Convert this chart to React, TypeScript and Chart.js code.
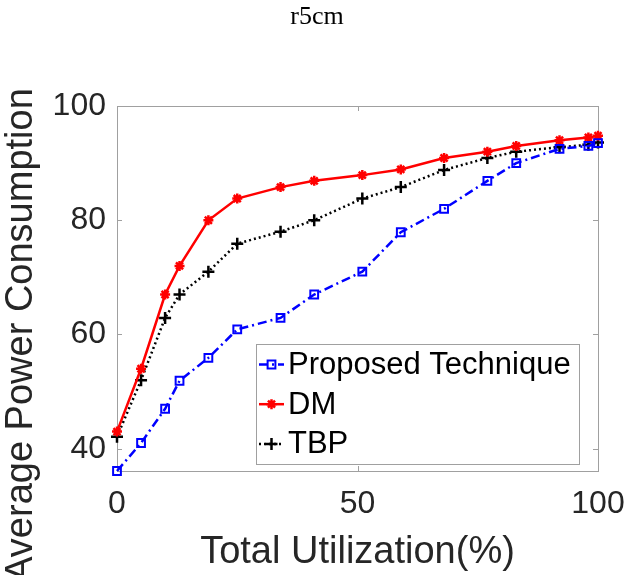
import React, { useEffect, useRef } from 'react';
import { Chart, registerables } from 'chart.js';
import { drawPoint } from 'chart.js/helpers';

Chart.register(...registerables);

const utilization = [0, 5, 10, 13, 19, 25, 34, 41, 51, 59, 68, 77, 83, 92, 98, 100];
const proposed = [36.1, 41, 47, 51.9, 55.9, 60.9, 62.9, 67, 71, 77.9, 82, 86.9, 90, 92.5, 93, 93.5];
const dm = [43, 54, 67, 72, 80, 83.8, 85.8, 86.9, 87.9, 88.9, 90.9, 92, 93, 94, 94.5, 94.8];
const tbp = [42.1, 52, 62.9, 67, 71, 75.9, 78, 80, 83.8, 85.8, 88.8, 90.9, 92, 92.8, 93.2, 93.6];
const xTicks = [0, 50, 100];
const yTicks = [40, 60, 80, 100];
const seriesNames = ['Proposed Technique', 'DM', 'TBP'];
const pageTitle = 'r5cm';
const xTitle = 'Total Utilization(%)';
const yTitle = 'Average Power Consumption';

const SANS = '"Liberation Sans", Arial, sans-serif';
const TEXT = '#262626';
const AXIS = '#a0a0a0';

const styles = [
  { color: '#0000ff', dash: [9, 4, 2, 4], width: 2.5, point: 'rect', radius: 5.5, pbw: 2 },
  { color: '#ff0000', dash: [], width: 2.5, point: 'star', radius: 5, pbw: 2.5 },
  { color: '#000000', dash: [2, 3], width: 2.5, point: 'cross', radius: 6, pbw: 2.5 },
];

const decorPlugin = {
  id: 'decor',
  beforeDatasetsDraw(chart: any) {
    const { ctx, chartArea: a, scales } = chart;
    ctx.save();
    ctx.strokeStyle = AXIS;
    ctx.lineWidth = 1;
    ctx.setLineDash([]);
    ctx.strokeRect(Math.round(a.left) + 0.5, Math.round(a.top) + 0.5, Math.round(a.right - a.left), Math.round(a.bottom - a.top));
    const tl = 5;
    ctx.beginPath();
    xTicks.forEach((v) => {
      const px = Math.round(scales.x.getPixelForValue(v)) + 0.5;
      ctx.moveTo(px, a.bottom);
      ctx.lineTo(px, a.bottom - tl);
      ctx.moveTo(px, a.top);
      ctx.lineTo(px, a.top + tl);
    });
    yTicks.forEach((v) => {
      const py = Math.round(scales.y.getPixelForValue(v)) + 0.5;
      ctx.moveTo(a.left, py);
      ctx.lineTo(a.left + tl, py);
      ctx.moveTo(a.right, py);
      ctx.lineTo(a.right - tl, py);
    });
    ctx.stroke();
    ctx.restore();
  },
  afterDatasetsDraw(chart: any) {
    const { ctx, chartArea: a } = chart;
    ctx.save();
    const w = 323;
    const h = 120;
    const right = a.right - 19;
    const bottom = a.bottom - 7;
    const left = right - w;
    const top = bottom - h;
    ctx.fillStyle = '#ffffff';
    ctx.fillRect(left, top, w, h);
    ctx.strokeStyle = AXIS;
    ctx.lineWidth = 1;
    ctx.setLineDash([]);
    ctx.strokeRect(Math.round(left) + 0.5, Math.round(top) + 0.5, w, h);
    seriesNames.forEach((name, i) => {
      const s = styles[i];
      const y = top + 20.5 + i * 39.7;
      ctx.strokeStyle = s.color;
      ctx.lineWidth = s.width;
      ctx.setLineDash(s.dash);
      ctx.beginPath();
      ctx.moveTo(left + 3, y);
      ctx.lineTo(left + 28, y);
      ctx.stroke();
      ctx.setLineDash([]);
      ctx.fillStyle = 'rgba(0,0,0,0)';
      ctx.lineWidth = s.pbw;
      drawPoint(ctx, { pointStyle: s.point, radius: s.radius, rotation: 0, borderWidth: s.pbw } as any, left + 15.5, y);
      ctx.fillStyle = '#000000';
      ctx.font = `31px ${SANS}`;
      ctx.textBaseline = 'middle';
      ctx.textAlign = 'left';
      ctx.fillText(name, left + 32, y + 1);
    });
    ctx.restore();
  },
  afterDraw(chart: any) {
    const { ctx } = chart;
    ctx.save();
    ctx.fillStyle = '#000000';
    ctx.font = '26px "Liberation Serif", "Times New Roman", serif';
    ctx.textAlign = 'center';
    ctx.textBaseline = 'middle';
    ctx.fillText(pageTitle, 317, 17);
    ctx.fillStyle = TEXT;
    ctx.font = `38px ${SANS}`;
    ctx.translate(22, 335);
    ctx.rotate(-Math.PI / 2);
    ctx.fillText(yTitle, 0, 0);
    ctx.restore();
  },
};

export default function App() {
  const ref = useRef<HTMLCanvasElement | null>(null);
  useEffect(() => {
    if (!ref.current) return;
    const series = [proposed, dm, tbp];
    const chart = new Chart(ref.current, {
      type: 'line',
      data: {
        datasets: series.map((vals, i) => ({
          label: seriesNames[i],
          data: utilization.map((x, j) => ({ x, y: vals[j] })),
          borderColor: styles[i].color,
          backgroundColor: 'rgba(0,0,0,0)',
          borderWidth: styles[i].width,
          borderDash: styles[i].dash,
          pointStyle: styles[i].point as any,
          pointRadius: styles[i].radius,
          pointBorderWidth: styles[i].pbw,
          pointBorderColor: styles[i].color,
          pointBackgroundColor: 'rgba(0,0,0,0)',
          tension: 0,
          clip: false as any,
        })),
      },
      options: {
        responsive: false,
        animation: false,
        devicePixelRatio: 1,
        layout: { padding: { top: 106, right: 30, left: 0, bottom: 0 } },
        plugins: { legend: { display: false }, tooltip: { enabled: false }, title: { display: false } },
        scales: {
          x: {
            type: 'linear',
            min: 0,
            max: 100,
            grid: { display: false, drawTicks: false },
            border: { display: false },
            afterBuildTicks: (s: any) => { s.ticks = xTicks.map((v) => ({ value: v })); },
            afterFit: (s: any) => { s.height = 104; s.paddingLeft = 0; s.paddingRight = 0; },
            ticks: { color: TEXT, font: { family: SANS, size: 32 }, padding: 14, maxRotation: 0 },
            title: { display: true, text: xTitle, color: TEXT, font: { family: SANS, size: 38 }, padding: 0 },
          },
          y: {
            type: 'linear',
            min: 36.1,
            max: 100,
            grid: { display: false, drawTicks: false },
            border: { display: false },
            afterBuildTicks: (s: any) => { s.ticks = yTicks.map((v) => ({ value: v })); },
            afterFit: (s: any) => { s.width = 117; s.paddingTop = 0; s.paddingBottom = 0; },
            ticks: { color: TEXT, font: { family: SANS, size: 32 }, padding: 11 },
          },
        },
      },
      plugins: [decorPlugin],
    });
    return () => chart.destroy();
  }, []);
  return (
    <div style={{ position: 'absolute', left: 0, top: 0, width: 628, height: 575, background: '#fff' }}>
      <canvas ref={ref} width={628} height={575} style={{ width: 628, height: 575, display: 'block' }} />
    </div>
  );
}
